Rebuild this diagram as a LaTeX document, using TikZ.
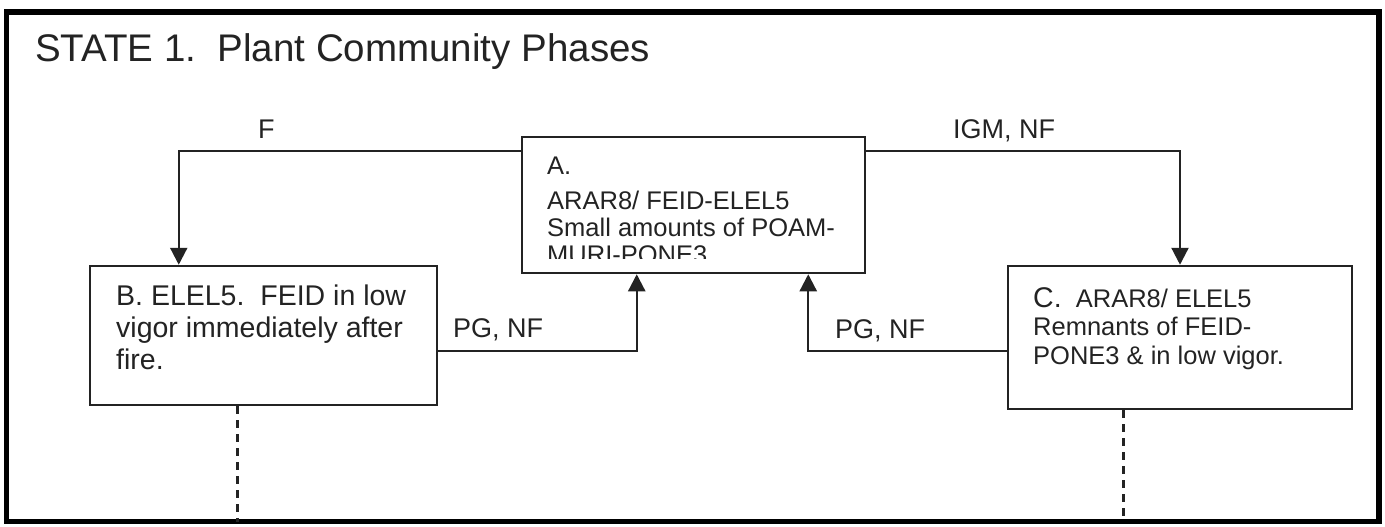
\documentclass[tikz,border=0pt]{standalone}
\usepackage{fontspec}
\setmainfont{Liberation Sans}
\usetikzlibrary{arrows.meta,calc}
\definecolor{ink}{RGB}{35,35,35}
\begin{document}
\frenchspacing
\begin{tikzpicture}[x=1pt,y=-1pt,
  box/.style={draw=ink, line width=2.5pt, inner sep=0pt},
  conn/.style={draw=ink, line width=2.3pt},
  arr/.style={conn, -{Triangle[width=17pt,length=17pt]}},
  txt/.style={text=ink, inner sep=0pt, align=left, anchor=north west},
  lbl/.style={text=ink, font=\fontsize{27}{30}\selectfont, inner sep=0pt, anchor=base west},
  dashln/.style={draw=ink, line width=3pt, dash pattern=on 8pt off 6pt}]
\useasboundingbox (0,0) rectangle (1385,527);
\node[draw=black, line width=5.5pt, outer sep=0pt, inner sep=0pt,
      minimum width=1372.5pt, minimum height=509.5pt] (frame) at (692.75,266.75) {};
\node[anchor=base west, font=\fontsize{38.5}{44}\selectfont, text=ink, inner sep=0pt] (title) at (35,62) {STATE 1.\ \ Plant Community Phases};

\node[box, minimum width=343pt, minimum height=136pt] (boxA) at (693.5,205) {};
\node[box, minimum width=347pt, minimum height=139pt] (boxB) at (263.5,335.5) {};
\node[box, minimum width=344pt, minimum height=143pt] (boxC) at (1180,337.5) {};

\begin{scope}
\clip (524,139) rectangle (863,258);
\node[txt, font=\fontsize{25.5}{27}\selectfont] (textA) at (547,157) {A.\\[8pt]ARAR8/ FEID-ELEL5\\Small amounts of POAM-\\MURI-PONE3};
\end{scope}
\node[txt, font=\fontsize{28.5}{32}\selectfont] (textB) at (116,285) {B. ELEL5.\ \ FEID in low\\vigor immediately after\\fire.};
\node[txt, font=\fontsize{25.5}{28.5}\selectfont] (textC) at (1033,287) {{\fontsize{28.5}{30}\selectfont C.}\ \ ARAR8/ ELEL5\\Remnants of FEID-\\PONE3 \& in low vigor.};

\node[lbl] (lblF) at (258,139) {F};
\node[lbl] (lblIGM) at (953,138) {IGM, NF};
\node[lbl] (lblPGa) at (453,337) {PG, NF};
\node[lbl] (lblPGb) at (835,338) {PG, NF};

\draw[arr] ([yshift=-15pt]boxA.north west) -| ([xshift=90pt]boxB.north west);
\draw[arr] ([yshift=-15pt]boxA.north east) -| (boxC.north);
\draw[arr] ([yshift=-86pt]boxB.north east) -| ([xshift=116pt]boxA.south west);
\draw[arr] ([yshift=-86pt]boxC.north west) -| ([xshift=-58pt]boxA.south east);

\draw[dashln] ([xshift=-26.5pt]boxB.south) -- ([xshift=-26.5pt]boxB.south |- frame.south);
\draw[dashln] ([xshift=-57pt]boxC.south) -- ([xshift=-57pt]boxC.south |- frame.south);
\end{tikzpicture}
\end{document}
